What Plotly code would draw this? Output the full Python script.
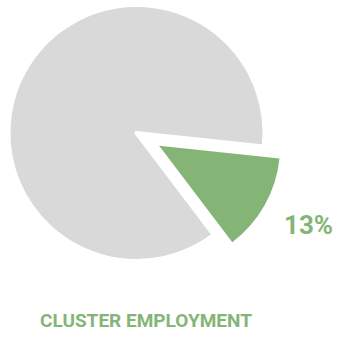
import math
import plotly.graph_objects as go

# ---- data ----
labels = ["Cluster employment", "Other employment"]
values = [13, 87]
share_label = "13%"
title_text = "CLUSTER EMPLOYMENT"

# ---- style ----
W, H = 338, 339
GREEN = "#85b576"
GRAY = "#d9d9d9"
ROT = 96            # start angle of first slice, clockwise from 12 o'clock
CX, CY = 136.5, 133  # pie centre in px
R_GRAY = 128
R_GREEN = 121
PULL_PX = 26
FONT = "Roboto, Liberation Sans, sans-serif"


def domain(cx, cy, r):
    return dict(x=[(cx - r) / W, (cx + r) / W],
                y=[1 - (cy + r) / H, 1 - (cy - r) / H])


# direction of the pulled slice (bisector)
ang = math.radians(ROT + 360 * values[0] / sum(values) / 2)
gx = CX + PULL_PX * math.sin(ang)
gy = CY - PULL_PX * math.cos(ang)

fig = go.Figure()
fig.add_trace(go.Pie(
    labels=labels, values=values, sort=False, direction="clockwise",
    rotation=ROT, textinfo="none", hoverinfo="skip", showlegend=False,
    marker=dict(colors=["rgba(0,0,0,0)", GRAY], line=dict(color="white", width=4)),
    domain=domain(CX, CY, R_GRAY),
))
fig.add_trace(go.Pie(
    labels=labels, values=values, sort=False, direction="clockwise",
    rotation=ROT, textinfo="none", hoverinfo="skip", showlegend=False,
    marker=dict(colors=[GREEN, "rgba(0,0,0,0)"], line=dict(width=0)),
    domain=domain(gx, gy, R_GREEN),
))

fig.add_annotation(text=share_label, x=308 / W, y=1 - 225 / H, xref="paper", yref="paper",
                   showarrow=False, font=dict(family=FONT, size=26, color=GREEN, weight="bold"),
                   xanchor="center", yanchor="middle")
fig.add_annotation(text=title_text, x=146 / W, y=1 - 320 / H, xref="paper", yref="paper",
                   showarrow=False, font=dict(family=FONT, size=19, color=GREEN, weight="bold"),
                   xanchor="center", yanchor="middle")

fig.update_layout(width=W, height=H, margin=dict(l=0, r=0, t=0, b=0),
                  paper_bgcolor="white", plot_bgcolor="white")
fig.write_html("out.html")
